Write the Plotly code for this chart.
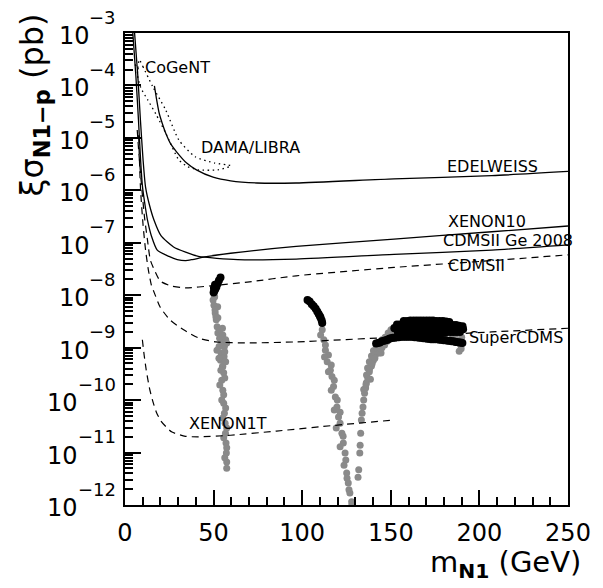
import plotly.graph_objects as go

# ---------------- data (x in GeV, y as log10 of sigma in pb) ----------------
edel_x = [16.6, 17.7, 19.3, 21.0, 23.0, 25.9, 29.2, 34.8, 40.3, 49.7, 59.6, 74.5, 96.6, 151.8, 207.0, 250.0]
edel_y = [-4.01, -4.24, -4.53, -4.72, -4.91, -5.12, -5.27, -5.48, -5.61, -5.75, -5.82, -5.86, -5.86, -5.78, -5.72, -5.64]

xe10_x = [4.3, 6.1, 7.6, 8.8, 9.9, 11.3, 12.7, 14.9, 18.2, 24.8, 29.5, 34.2, 38.0, 45.0, 59.6, 96.6, 151.8, 207.0, 250.0]
xe10_y = [-2.95, -3.80, -4.66, -5.42, -5.94, -6.28, -6.57, -6.87, -7.14, -7.26, -7.32, -7.34, -7.32, -7.27, -7.20, -7.07, -6.93, -6.79, -6.68]

cdmsge_x = [5.3, 7.2, 8.7, 10.2, 11.6, 13.8, 16.4, 20.4, 27.4, 34.2, 41.4, 63.5, 96.6, 151.8, 207.0, 250.0]
cdmsge_y = [-2.95, -3.80, -4.66, -5.42, -5.94, -6.28, -6.57, -6.87, -7.08, -7.18, -7.26, -7.32, -7.31, -7.22, -7.14, -7.04]

cdms_x = [6.9, 7.7, 9.2, 11.0, 12.7, 14.3, 16.6, 19.9, 25.8, 34.1, 48.6, 69.0, 96.6, 151.8, 207.0, 250.0]
cdms_y = [-4.85, -5.23, -5.86, -6.51, -6.95, -7.33, -7.52, -7.73, -7.82, -7.86, -7.82, -7.75, -7.63, -7.47, -7.34, -7.23]

super_x = [7.7, 8.8, 10.2, 11.6, 13.2, 14.9, 16.6, 19.9, 25.4, 33.1, 41.9, 51.3, 67.9, 96.6, 151.8, 207.0, 250.0]
super_y = [-4.95, -5.99, -6.66, -7.14, -7.52, -7.81, -7.96, -8.23, -8.47, -8.66, -8.82, -8.89, -8.91, -8.89, -8.80, -8.70, -8.63]

xe1t_x = [9.8, 10.8, 12.0, 13.8, 15.5, 17.7, 20.3, 23.2, 26.5, 34.1, 41.4, 59.6, 85.5, 118.7, 151.8]
xe1t_y = [-8.85, -9.14, -9.43, -9.77, -10.00, -10.23, -10.40, -10.51, -10.61, -10.69, -10.70, -10.67, -10.59, -10.48, -10.38]

dama_x = [8.1, 10.1, 15.6, 23.0, 30.4, 39.6, 50.6, 59.8, 58.9, 52.4, 41.4, 35.5, 30.4, 23.0, 17.5, 12.9, 9.0, 7.0, 8.1]
dama_y = [-3.51, -3.64, -4.02, -4.47, -5.04, -5.36, -5.48, -5.53, -5.55, -5.61, -5.61, -5.55, -5.42, -4.91, -4.55, -4.28, -4.05, -3.80, -3.51]

cogent_x = [5.6, 7.0, 8.2]
cogent_y = [-3.60, -3.66, -3.72]

# scan points (grey)
grey_x = [50.6, 50.2, 50.9, 51.5, 52.0, 52.4, 53.4, 54.6, 56.1, 54.2, 53.9, 55.2, 55.7, 54.6, 55.2, 55.7, 56.1, 56.5, 56.7, 57.0, 57.2, 57.4, 57.4,
          50.4, 52.3, 51.3, 55.0, 54.1, 56.8, 53.1, 55.9, 55.0,
          49.7, 50.8, 52.4, 53.5, 55.2, 57.4, 51.9, 56.3, 53.0, 56.8, 54.1, 56.3, 53.5, 55.7, 54.6, 56.8, 55.2, 57.4, 55.7, 57.4, 56.3,
          111.3, 112.2, 113.1, 114.1, 115.9, 116.8, 117.7, 118.7, 119.6, 120.5, 121.4, 122.4, 123.2, 124.2, 124.6, 125.1, 126.0, 126.9, 127.9,
          110.4, 113.1, 114.8, 112.6, 116.4, 114.8, 118.1, 116.4, 119.8, 118.1, 121.4, 119.2, 123.1, 121.4, 123.6, 125.3, 126.4, 128.0,
          131.5, 131.9, 132.5, 132.7, 133.0, 133.4, 133.8, 134.3, 134.7, 135.2, 135.8, 136.2, 137.0, 136.3, 137.9, 136.9, 139.1, 137.9,
          140.2, 139.1, 141.3, 140.2, 142.9, 141.8, 144.0, 142.9, 145.7, 145.1, 147.4, 146.8, 149.0, 148.5, 150.7, 150.1, 152.3, 151.8, 154.0,
          134.7, 138.5, 136.0, 143.5, 145.0, 146.5, 148.0, 149.5, 151.0, 138.0, 139.5, 141.0, 144.5,
          150.0, 156.0, 162.0, 168.0, 174.0, 180.0, 186.0, 189.5, 189.7, 188.6, 155.0, 160.0, 170.0, 178.0, 185.0, 190.0]
grey_y = [-8.03, -8.19, -8.34, -8.47, -8.60, -8.72, -8.82, -8.89, -8.98, -9.10, -9.24, -9.36, -9.48, -9.62, -9.81, -10.06, -10.25, -10.44, -10.63, -10.82, -11.01, -11.18, -11.30,
          -8.03, -8.22, -8.41, -8.63, -8.79, -8.85, -8.98, -9.17, -9.36,
          -8.09, -8.28, -8.43, -8.66, -8.76, -8.91, -9.05, -9.08, -9.20, -9.27, -9.43, -9.58, -9.71, -9.90, -10.00, -10.15, -10.34, -10.53, -10.72, -10.91, -11.10,
          -8.66, -8.85, -9.05, -9.27, -9.43, -9.55, -9.74, -9.94, -10.13, -10.32, -10.44, -10.63, -10.82, -11.01, -11.14, -11.39, -11.58, -11.77, -11.94,
          -8.76, -8.95, -9.14, -9.18, -9.33, -9.46, -9.62, -9.81, -10.00, -10.19, -10.23, -10.53, -10.69, -10.89, -11.24, -11.49, -11.71, -12.0,
          -11.47, -11.33, -11.01, -10.86, -10.63, -10.38, -10.25, -10.13, -10.00, -9.87, -9.77, -9.67, -9.58, -9.52, -9.46, -9.39, -9.35, -9.27,
          -9.24, -9.16, -9.14, -9.06, -9.05, -8.99, -8.97, -8.91, -8.91, -8.85, -8.85, -8.80, -8.78, -8.72, -8.72, -8.66, -8.66, -8.61, -8.61,
          -9.80, -9.60, -9.70, -9.10, -9.00, -8.95, -8.88, -8.83, -8.80, -9.40, -9.30, -9.20, -9.10,
          -8.76, -8.75, -8.75, -8.76, -8.76, -8.77, -8.78, -8.95, -9.02, -9.07, -8.74, -8.74, -8.76, -8.77, -8.78, -8.80]

# scan points (black)
black_x = [53.9, 53.0, 52.2, 51.6, 51.0, 50.4, 50.2, 50.8, 50.0,
           103.0, 104.2, 105.4, 106.5, 107.6, 108.5, 109.3, 110.0, 110.4, 111.0, 111.3,
           157.3, 159.2, 161.0, 162.9, 164.7, 166.5, 168.3, 170.2, 172.0, 173.8, 175.6, 177.5, 179.4, 181.2, 183.0,
           153.5, 155.3, 157.0, 158.8, 160.5, 162.3, 164.0, 165.8, 167.5, 169.3, 171.0, 172.8, 174.5, 176.3, 178.0, 179.8, 181.5, 183.3, 185.0, 186.8, 188.5, 190.5,
           152.0, 153.8, 155.5, 157.3, 159.0, 160.8, 162.5, 164.3, 166.0, 167.8, 169.5, 171.3, 173.0, 174.8, 176.5, 178.3, 180.0, 181.8, 183.5, 185.3, 187.0, 189.0, 190.8,
           154.0, 155.8, 157.5, 159.3, 161.0, 162.8, 164.5, 166.3, 168.0, 169.8, 171.5, 173.3, 175.0, 176.8, 178.5, 180.3, 182.0, 183.8, 185.5, 187.3, 189.0,
           141.7, 142.8, 143.9, 145.0, 146.2, 147.2, 148.1, 149.1, 150.0, 151.2, 152.3, 153.4, 154.5, 155.6, 156.7, 157.8, 158.9, 160.0, 161.2, 162.3,
           163.4, 164.6, 165.9, 167.1, 168.3, 169.4, 170.5, 171.6, 172.7, 173.9, 175.1, 176.3, 177.5, 178.6, 179.8, 181.0, 182.1, 183.2, 184.3, 185.4,
           186.5, 187.5, 188.5, 189.5, 190.4]
black_y = [-7.66, -7.72, -7.78, -7.84, -7.88, -7.92, -7.86, -7.80, -7.95,
           -8.09, -8.12, -8.17, -8.21, -8.26, -8.31, -8.36, -8.40, -8.43, -8.48, -8.53,
           -8.49, -8.49, -8.48, -8.48, -8.48, -8.48, -8.48, -8.48, -8.48, -8.48, -8.49, -8.49, -8.49, -8.50, -8.51,
           -8.56, -8.56, -8.56, -8.56, -8.56, -8.56, -8.56, -8.56, -8.56, -8.56, -8.56, -8.56, -8.56, -8.56, -8.56, -8.56, -8.56, -8.57, -8.57, -8.57, -8.58, -8.59,
           -8.63, -8.63, -8.63, -8.63, -8.63, -8.63, -8.63, -8.63, -8.63, -8.63, -8.63, -8.63, -8.63, -8.63, -8.63, -8.63, -8.63, -8.63, -8.63, -8.63, -8.63, -8.64, -8.65,
           -8.70, -8.71, -8.71, -8.71, -8.71, -8.71, -8.71, -8.71, -8.71, -8.71, -8.71, -8.71, -8.71, -8.71, -8.71, -8.71, -8.70, -8.70, -8.70, -8.70, -8.70,
           -8.92, -8.91, -8.90, -8.88, -8.87, -8.86, -8.85, -8.83, -8.82, -8.81, -8.81, -8.80, -8.80, -8.79, -8.79, -8.79, -8.79, -8.79, -8.79, -8.79,
           -8.80, -8.80, -8.81, -8.81, -8.82, -8.82, -8.83, -8.83, -8.84, -8.84, -8.84, -8.84, -8.85, -8.85, -8.86, -8.86, -8.87, -8.87, -8.88, -8.88,
           -8.89, -8.89, -8.90, -8.90, -8.91]

labels = ["CoGeNT", "DAMA/LIBRA", "EDELWEISS", "XENON10", "CDMSII Ge 2008", "CDMSII", "SuperCDMS", "XENON1T"]
label_x = [9.9, 41.9, 180.5, 181.0, 178.3, 181.0, 193.2, 34.8]
label_y = [-3.65, -5.19, -5.54, -6.59, -6.95, -7.44, -8.80, -10.44]

x_ticks = [0, 50, 100, 150, 200, 250]
x_minor = [10, 20, 30, 40, 60, 70, 80, 90, 110, 120, 130, 140, 160, 170, 180, 190, 210, 220, 230, 240]
y_exps = [-3, -4, -5, -6, -7, -8, -9, -10, -11, -12]

FONT = "DejaVu Sans"


def p(v):
    return [10.0 ** t for t in v]


fig = go.Figure()

fig.add_trace(go.Scatter(x=grey_x, y=p(grey_y), mode="markers",
                         marker=dict(color="#8a8a8a", size=7, line=dict(width=0))))
fig.add_trace(go.Scatter(x=black_x, y=p(black_y), mode="markers",
                         marker=dict(color="black", size=8, line=dict(width=0))))

solid = dict(color="black", width=1.3, shape="spline", smoothing=0.6)
dashed = dict(color="black", width=1.2, dash="7px,5px", shape="spline", smoothing=0.6)
dotted = dict(color="black", width=1.3, dash="1.5px,3.5px", shape="spline", smoothing=0.6)

for xs, ys, ln in [(edel_x, edel_y, solid), (xe10_x, xe10_y, solid), (cdmsge_x, cdmsge_y, solid),
                   (cdms_x, cdms_y, dashed), (super_x, super_y, dashed), (xe1t_x, xe1t_y, dashed),
                   (dama_x, dama_y, dotted), (cogent_x, cogent_y, dotted)]:
    fig.add_trace(go.Scatter(x=xs, y=p(ys), mode="lines", line=ln))

ann = []
for t, lx, ly in zip(labels, label_x, label_y):
    ann.append(dict(x=lx, y=ly, xref="x", yref="y", text=t, showarrow=False,
                    xanchor="left", yanchor="middle", font=dict(family=FONT, size=16, color="black")))

for e in y_exps:
    et = "\u2212" + str(-e)
    w = 26.5 if -e < 10 else 38.0
    ann.append(dict(x=0, y=e, xref="paper", yref="y", text=et, showarrow=False,
                    xanchor="right", yanchor="middle", xshift=-7, yshift=16,
                    font=dict(family=FONT, size=18, color="black")))
    ann.append(dict(x=0, y=e, xref="paper", yref="y", text="10", showarrow=False,
                    xanchor="right", yanchor="middle", xshift=-7 - w, yshift=-3,
                    font=dict(family=FONT, size=24, color="black")))

ann.append(dict(x=1.033, y=-0.125, xref="paper", yref="paper",
                text="m<sub><b>N1</b></sub> (GeV)", showarrow=False,
                xanchor="right", yanchor="middle", font=dict(family=FONT, size=29, color="black")))
ann.append(dict(x=-0.205, y=0.847, xref="paper", yref="paper", textangle=-90,
                text="\u03be\u03c3<sub><b>N1\u2212p</b></sub> (pb)", showarrow=False,
                xanchor="center", yanchor="middle", font=dict(family=FONT, size=32, color="black")))

minor_y = [m * 10.0 ** k for k in range(-12, -3) for m in range(2, 10)]

# The page body has an 8px default margin, so the figure is 8px smaller and margins shifted.
fig.update_layout(
    width=595, height=580,
    margin=dict(l=117, r=25, t=25, b=83),
    plot_bgcolor="white", paper_bgcolor="white",
    showlegend=False,
    annotations=ann,
    xaxis=dict(range=[0, 250], showgrid=False, zeroline=False, showline=True, linecolor="black",
               linewidth=2, mirror=True, ticks="inside", ticklen=15, tickwidth=1.5, tickcolor="black",
               tickmode="array", tickvals=x_ticks, ticktext=[str(v) for v in x_ticks],
               tickfont=dict(family=FONT, size=24, color="black"), ticklabelstandoff=5,
               minor=dict(ticks="inside", ticklen=8, tickwidth=1.5, tickcolor="black", tickvals=x_minor)),
    yaxis=dict(type="log", range=[-12, -3], showgrid=False, zeroline=False, showline=True,
               linecolor="black", linewidth=2, mirror=True, ticks="inside", ticklen=16, tickwidth=1.5,
               tickcolor="black", tickmode="array", tickvals=[10.0 ** e for e in y_exps],
               showticklabels=False,
               minor=dict(ticks="inside", ticklen=8, tickwidth=1.5, tickcolor="black", tickvals=minor_y)),
)

fig.write_html("out.html")
